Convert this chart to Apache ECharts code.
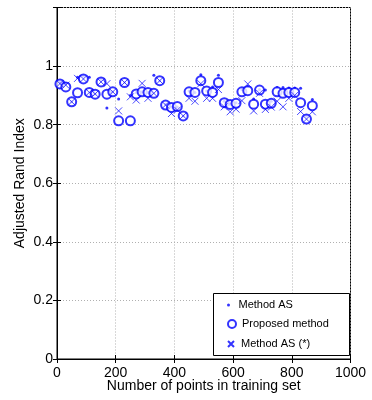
<!DOCTYPE html>
<html><head><meta charset="utf-8">
<script src="https://cdn.jsdelivr.net/npm/echarts@6/dist/echarts.min.js"></script>
<style>html,body{margin:0;padding:0;background:#fff}#c{width:372px;height:400px}</style>
</head><body><div id="c"></div>
<script>
const xPoints = [10,30,50,70,90,110,130,150,170,190,210,230,250,270,290,310,330,350,370,390,410,430,450,470,490,510,530,550,570,590,610,630,650,670,690,710,730,750,770,790,810,830,850,870];
const proposed = [0.939,0.929,0.878,0.909,0.956,0.910,0.904,0.946,0.904,0.912,0.813,0.944,0.813,0.905,0.912,0.910,0.907,0.950,0.867,0.859,0.862,0.830,0.912,0.910,0.950,0.915,0.910,0.944,0.875,0.869,0.873,0.912,0.916,0.870,0.918,0.870,0.873,0.912,0.907,0.910,0.910,0.875,0.819,0.865];
const methodAS = [0.945,0.940,0.878,0.962,0.965,0.962,0.905,0.955,0.857,0.912,0.888,0.944,0.900,0.910,0.912,0.910,0.969,0.950,0.870,0.860,0.860,0.830,0.915,0.910,0.970,0.915,0.929,0.969,0.880,0.870,0.875,0.920,0.930,0.888,0.920,0.918,0.880,0.927,0.927,0.925,0.925,0.924,0.830,0.886];
const methodASstar = [0.940,0.935,0.878,0.958,0.956,0.910,0.905,0.946,0.940,0.912,0.847,0.944,0.895,0.884,0.941,0.890,0.907,0.950,0.867,0.838,0.850,0.830,0.890,0.880,0.940,0.890,0.890,0.920,0.861,0.844,0.853,0.882,0.939,0.847,0.907,0.852,0.860,0.880,0.861,0.890,0.900,0.845,0.819,0.844];
const xTicks = [0,200,400,600,800,1000];
const yTicks = [0,0.2,0.4,0.6,0.8,1];
const names = ['Method AS','Proposed method','Method AS (*)'];

const BLUE = '#0000ff';
const FONT = 'Liberation Sans, Arial, Helvetica, sans-serif';
const CROSS = 'path://M0,0L10,10M10,0L0,10';
const zip = (ys) => xPoints.map((x,i)=>[x, ys[i]]);

const chart = echarts.init(document.getElementById('c'), null, {renderer:'canvas'});
const axisCommon = {
  axisLine:{show:true, lineStyle:{color:'#000', width:1}},
  axisTick:{show:true, inside:true, length:4, lineStyle:{color:'#000'}},
  axisLabel:{color:'#000', fontSize:14, fontFamily:FONT},
  splitLine:{show:false}
};
const legendBase = {
  orient:'vertical', itemWidth:10, itemGap:0, padding:0, textGap:10,
  textStyle:{color:'#000', fontSize:11, fontFamily:FONT},
  selectedMode:false
};
chart.setOption({
  animation:false,
  backgroundColor:'#fff',
  grid:{left:57, right:21.5, top:7.5, bottom:41, show:true, borderColor:'#000', borderWidth:1, backgroundColor:'transparent'},
  xAxis:[
    Object.assign({}, axisCommon, {type:'value', min:0, max:1000, interval:200, position:'bottom',
      name:'Number of points in training set', nameLocation:'middle', nameGap:20, nameMoveOverlap:false,
      nameTextStyle:{color:'#000', fontSize:14, fontFamily:FONT, verticalAlign:'top'},
      axisLabel:{color:'#000', fontSize:14, fontFamily:FONT, margin:7, showMaxLabel:true, showMinLabel:true,
        formatter:(v)=> xTicks.includes(v)? String(v):''},
      splitLine:{show:true, lineStyle:{color:'#b0b0b0', type:[1,2], width:1}}}),
    Object.assign({}, axisCommon, {type:'value', min:0, max:1000, interval:200, position:'top',
      axisLabel:{show:false}})
  ],
  yAxis:[
    Object.assign({}, axisCommon, {type:'value', min:0, max:1.2, interval:0.2, position:'left',
      name:'Adjusted Rand Index', nameLocation:'middle', nameGap:30, nameMoveOverlap:false,
      nameTextStyle:{color:'#000', fontSize:14, fontFamily:FONT},
      axisLabel:{color:'#000', fontSize:14, fontFamily:FONT, margin:4,
        formatter:(v)=> yTicks.some(t=>Math.abs(t-v)<1e-9)? String(Math.round(v*10)/10):''},
      splitLine:{show:true, lineStyle:{color:'#b0b0b0', type:[1,2], width:1}}}),
    Object.assign({}, axisCommon, {type:'value', min:0, max:1.2, interval:0.2, position:'right',
      axisLabel:{show:false}})
  ],
  legend:[
    Object.assign({}, legendBase, {left:227, top:299.5, itemHeight:3, data:[{name:names[0], icon:'circle'}]}),
    Object.assign({}, legendBase, {left:227, top:318.5, itemHeight:8, data:[{name:names[1], icon:'emptyCircle'}]}),
    Object.assign({}, legendBase, {left:227, top:338.5, itemHeight:6, data:[{name:names[2], icon:CROSS}]})
  ],
  graphic:[{type:'rect', left:213, top:293, shape:{width:136, height:62}, z:2,
    style:{fill:'#fff', stroke:'#000', lineWidth:1}}],
  series:[
    {name:names[0], type:'scatter', data:zip(methodAS), symbol:'circle', symbolSize:3, z:5,
      itemStyle:{color:BLUE}},
    {name:names[1], type:'scatter', data:zip(proposed), symbol:'emptyCircle', symbolSize:9, z:5,
      itemStyle:{color:BLUE, borderColor:BLUE, borderWidth:0.9}},
    {name:names[2], type:'scatter', data:zip(methodASstar), symbol:CROSS, symbolSize:7, z:5,
      itemStyle:{color:BLUE, borderColor:BLUE, borderWidth:0.9}}
  ]
});
</script></body></html>
